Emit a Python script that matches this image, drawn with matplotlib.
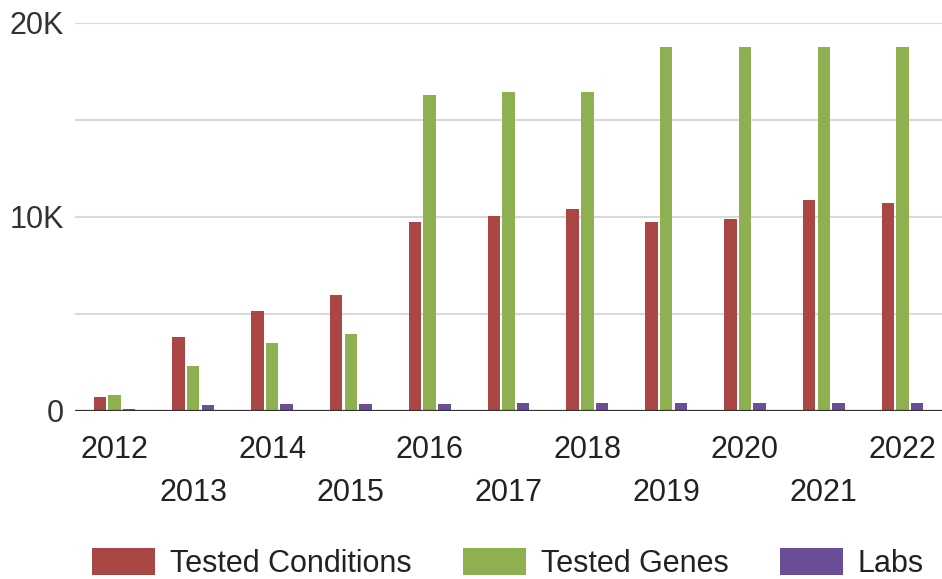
import matplotlib
matplotlib.use("Agg")
import matplotlib.pyplot as plt
from matplotlib.patches import Patch
import numpy as np

plt.rcParams['font.family'] = ['Liberation Sans', 'DejaVu Sans']

years = ["2012", "2013", "2014", "2015", "2016", "2017", "2018", "2019", "2020", "2021", "2022"]
tested_conditions = [700, 3820, 5140, 5970, 9720, 10070, 10390, 9720, 9900, 10890, 10710]
tested_genes = [850, 2330, 3490, 3980, 16300, 16460, 16460, 18750, 18750, 18750, 18750]
labs = [120, 300, 380, 380, 380, 390, 390, 400, 400, 390, 390]

series_names = ["Tested Conditions", "Tested Genes", "Labs"]
colors = ["#AA4643", "#8FB050", "#6A4E96"]

fig = plt.figure(figsize=(9.42, 5.79), dpi=100)
ax = fig.add_axes([75 / 942, 1 - 411 / 579, 1 - 75 / 942, (411 - 23) / 579])

x = np.arange(len(years))
slot = 0.186
bw = 0.158
for i, (vals, c) in enumerate(zip([tested_conditions, tested_genes, labs], colors)):
    ax.bar(x + (i - 1) * slot, vals, width=bw, color=c, zorder=3)

ax.set_xlim(-0.5, len(years) - 0.5)
ax.set_ylim(0, 20000)
ax.set_yticks([0, 5000, 10000, 15000, 20000])
ax.set_yticklabels(["0", "", "10K", "", "20K"])
ax.grid(axis='y', color='#d9d9d9', linewidth=1.5, zorder=0)
ax.axhline(0, color='#333333', linewidth=1.6, zorder=4)

for s in ax.spines.values():
    s.set_visible(False)

ax.tick_params(axis='y', length=0, labelsize=22, labelcolor='#333333', pad=8)
ax.set_xticks(x)
ax.set_xticklabels(years)
ax.tick_params(axis='x', length=0, labelsize=22, labelcolor='#222222', pad=17)
for i, t in enumerate(ax.xaxis.get_major_ticks()):
    if i % 2 == 1:
        t.set_pad(48)

handles = [Patch(facecolor=c, edgecolor='none') for c in colors]
fig.legend(handles, series_names, loc='upper center',
           bbox_to_anchor=(508 / 942, 1 - 548 / 579), ncol=3, frameon=False,
           fontsize=22, handlelength=2.06, handleheight=1.0, handletextpad=0.49,
           columnspacing=1.67, borderpad=0, borderaxespad=0,
           labelcolor='#222222')

fig.savefig("out.png", dpi=100)
